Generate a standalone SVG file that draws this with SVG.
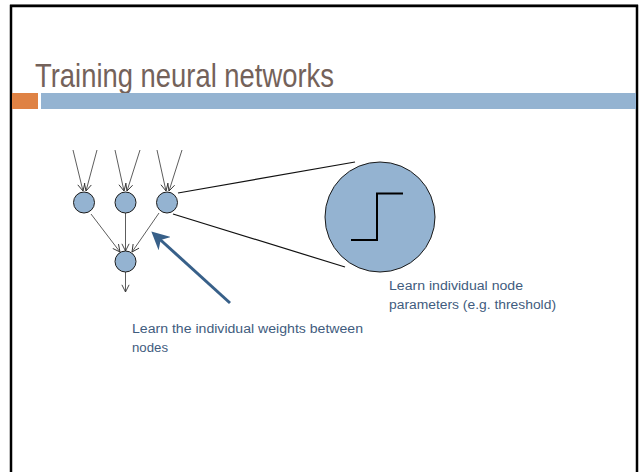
<svg xmlns="http://www.w3.org/2000/svg" width="642" height="472" viewBox="0 0 642 472">
  <style>
    .title { font-family: "Liberation Sans", Arial, sans-serif; font-size: 33px; fill: #74625a; }
    .label { font-family: "Liberation Sans", Arial, sans-serif; font-size: 12.5px; fill: #3f5c7e; }
    .node { fill: #94b3d1; stroke: #1a1a1a; stroke-width: 1; }
    .edge { stroke: #333; stroke-width: 0.8; fill: none; marker-end: url(#vhead); }
    .zoomline { stroke: #111; stroke-width: 1.2; fill: none; }
  </style>
  <defs>
    <marker id="vhead" viewBox="0 0 10 10" refX="9" refY="5" markerWidth="9" markerHeight="9" markerUnits="userSpaceOnUse" orient="auto">
      <path d="M1,1 L9,5 L1,9" fill="none" stroke="#333" stroke-width="1"/>
    </marker>
    <marker id="bighead" viewBox="0 0 10 10" refX="8" refY="5" markerWidth="6" markerHeight="6" orient="auto">
      <path d="M0,0 L10,5 L0,10 L3,5 Z" fill="#386089"/>
    </marker>
  </defs>

  <!-- slide frame -->
  <rect width="642" height="472" fill="#ffffff"/>
  <line x1="10" y1="4.5" x2="638" y2="4.5" stroke="#999" stroke-width="1"/>
  <path d="M11,472 L11,6 L637,6 L637,472" fill="none" stroke="#000" stroke-width="2.5"/>

  <!-- title and header bar -->
  <text class="title" x="35" y="87" textLength="299" lengthAdjust="spacingAndGlyphs">Training neural networks</text>
  <rect x="12" y="93" width="26" height="16" fill="#df8244"/>
  <rect x="41" y="93" width="595" height="16" fill="#94b3d1"/>

  <!-- connectors -->
  <g id="connectors">
    <line class="edge" x1="73" y1="150" x2="83" y2="191"/>
    <line class="edge" x1="97" y1="150" x2="86" y2="191"/>
    <line class="edge" x1="115" y1="150" x2="124" y2="191"/>
    <line class="edge" x1="140" y1="150" x2="127" y2="191"/>
    <line class="edge" x1="157" y1="150" x2="166" y2="191"/>
    <line class="edge" x1="182" y1="150" x2="169" y2="191"/>
    <line class="edge" x1="91" y1="214" x2="120" y2="252"/>
    <line class="edge" x1="125.5" y1="213" x2="125.5" y2="251"/>
    <line class="edge" x1="159" y1="213" x2="132" y2="252"/>
    <line class="edge" x1="125.5" y1="272" x2="125.5" y2="292"/>
    <line class="zoomline" x1="178" y1="193" x2="355" y2="162"/>
    <line class="zoomline" x1="173" y1="214" x2="345" y2="267"/>
    <line x1="230" y1="303" x2="154" y2="234" stroke="#386089" stroke-width="3" marker-end="url(#bighead)"/>
  </g>

  <!-- network nodes -->
  <g id="n1"><circle class="node" cx="84" cy="202.5" r="10.5"/></g>
  <g id="n2"><circle class="node" cx="125.5" cy="202.5" r="10.5"/></g>
  <g id="n3"><circle class="node" cx="167" cy="202.5" r="10.5"/></g>
  <g id="out"><circle class="node" cx="125.5" cy="261.5" r="10.5"/></g>

  <!-- magnified node with step activation -->
  <g id="magnified">
    <circle class="node" cx="380" cy="217" r="55"/>
    <path d="M351,240 L377,240 L377,193.5 L403,193.5" fill="none" stroke="#000" stroke-width="2"/>
  </g>

  <!-- annotations -->
  <g id="label-node">
    <text class="label" x="389" y="290" textLength="134" lengthAdjust="spacingAndGlyphs">Learn individual node</text>
    <text class="label" x="389" y="309" textLength="167" lengthAdjust="spacingAndGlyphs">parameters (e.g. threshold)</text>
  </g>
  <g id="label-weights">
    <text class="label" x="132" y="333" textLength="231" lengthAdjust="spacingAndGlyphs">Learn the individual weights between</text>
    <text class="label" x="132" y="352" textLength="36" lengthAdjust="spacingAndGlyphs">nodes</text>
  </g>
</svg>
